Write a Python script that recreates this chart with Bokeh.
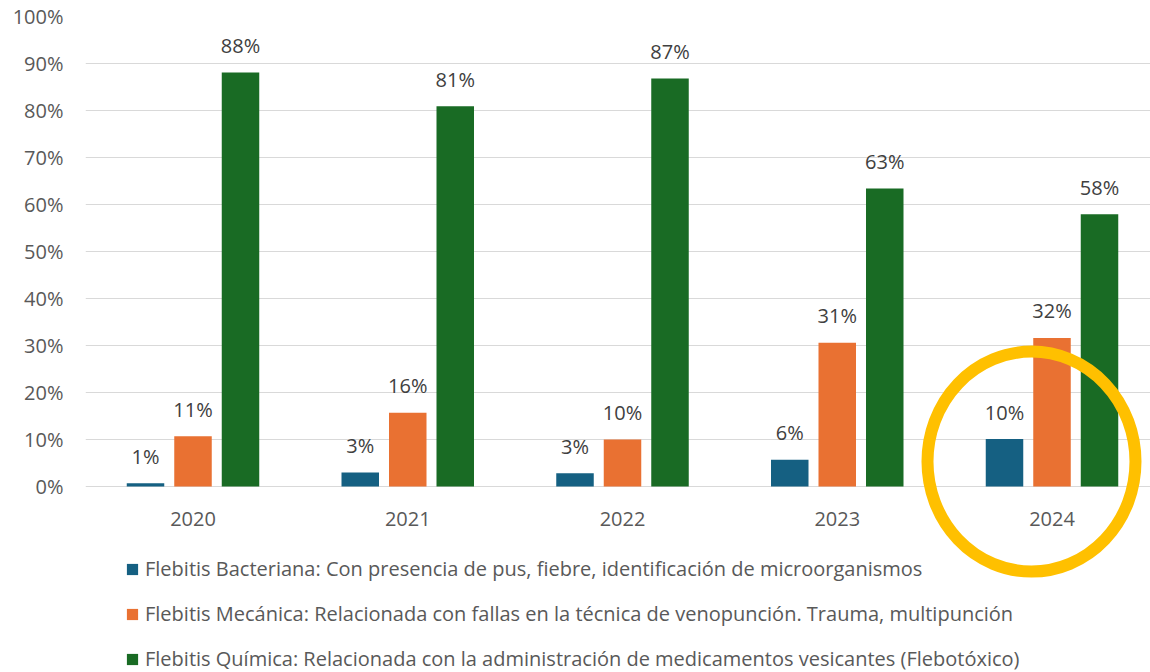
from bokeh.plotting import figure
from bokeh.models import ColumnDataSource, Range1d, FixedTicker, Legend, LegendItem
from bokeh.transform import dodge
from bokeh.core.properties import value
from bokeh.embed import file_html
from bokeh.resources import INLINE

years = [2020, 2021, 2022, 2023, 2024]
bacteriana = [0.7, 3.0, 2.8, 5.7, 10.1]
mecanica = [10.7, 15.7, 10.0, 30.6, 31.6]
quimica = [88.1, 80.9, 86.8, 63.4, 57.9]
series_names = [
    "Flebitis Bacteriana: Con presencia de pus, fiebre, identificación de microorganismos",
    "Flebitis Mecánica: Relacionada con fallas en la técnica de venopunción. Trauma, multipunción",
    "Flebitis Química: Relacionada con la administración de medicamentos vesicantes (Flebotóxico)",
]
colors = ["#156082", "#E97132", "#196B24"]
y_ticks = [0, 10, 20, 30, 40, 50, 60, 70, 80, 90, 100]
highlight_year = 2024

FONT = "Open Sans"
TICK_COLOR = "#595959"
LABEL_COLOR = "#404040"

src = ColumnDataSource(dict(
    year=years,
    b=bacteriana, m=mecanica, q=quimica,
    bl=[f"{round(v)}%" for v in bacteriana],
    ml=[f"{round(v)}%" for v in mecanica],
    ql=[f"{round(v)}%" for v in quimica],
    ylab=[str(y) for y in years],
    ypos=[-7.0] * len(years),
))

unit_px = 214.75
frame_w = 1065
x_start = years[0] - 107.5 / unit_px
x_end = x_start + frame_w / unit_px
frame_h = 656
y_end = 100
y_start = y_end - frame_h / 4.7

p = figure(width=1150, height=672, output_backend="svg", toolbar_location=None,
           x_range=Range1d(x_start, x_end), y_range=Range1d(y_start, y_end),
           min_border_left=85, min_border_right=0, min_border_top=16, min_border_bottom=0)
p.outline_line_color = None
p.xaxis.visible = False
p.xgrid.visible = False
p.ygrid.grid_line_color = "#d9d9d9"
p.ygrid.grid_line_width = 1
p.yaxis.ticker = FixedTicker(ticks=y_ticks)
p.yaxis.major_label_overrides = {t: f"{t}%" for t in y_ticks}
p.yaxis.axis_line_color = None
p.yaxis.major_tick_line_color = None
p.yaxis.minor_tick_line_color = None
p.yaxis.major_tick_out = 0
p.yaxis.major_label_standoff = 22
p.yaxis.major_label_text_font = FONT
p.yaxis.major_label_text_font_size = "20px"
p.yaxis.major_label_text_color = TICK_COLOR

off = 47.5 / unit_px
bw = 37.5 / unit_px
renderers = []
for field, lab, dx, c in [("b", "bl", -off, colors[0]), ("m", "ml", 0.0, colors[1]), ("q", "ql", off, colors[2])]:
    r = p.vbar(x=dodge("year", dx), top=field, bottom=0, width=bw, source=src,
               fill_color=c, line_color=None)
    renderers.append(r)
    p.text(x=dodge("year", dx), y=field, text=lab, source=src,
           text_align="center", text_baseline="middle", y_offset=-27,
           text_font=value(FONT), text_font_size="20px", text_color=LABEL_COLOR)

# year labels
p.text(x="year", y="ypos", text="ylab", source=src, text_align="center", text_baseline="middle",
       text_font=value(FONT), text_font_size="20px", text_color=TICK_COLOR)

# highlight ring
p.ellipse(x=[highlight_year - 0.0955], y=[5.3], width=208, height=220,
          width_units="screen", height_units="screen",
          fill_color=None, line_color="#FFC000", line_width=12)

legend = Legend(items=[LegendItem(label=n, renderers=[r]) for n, r in zip(series_names, renderers)],
                location=(40, 0), orientation="vertical", padding=0, margin=0,
                spacing=18, glyph_width=14, glyph_height=14, label_standoff=6,
                label_text_font=FONT, label_text_font_size="20px", label_text_color=TICK_COLOR,
                label_height=20, border_line_color=None, background_fill_alpha=0)
p.add_layout(legend, "center")

open("out.html", "w").write(file_html(p, INLINE))
